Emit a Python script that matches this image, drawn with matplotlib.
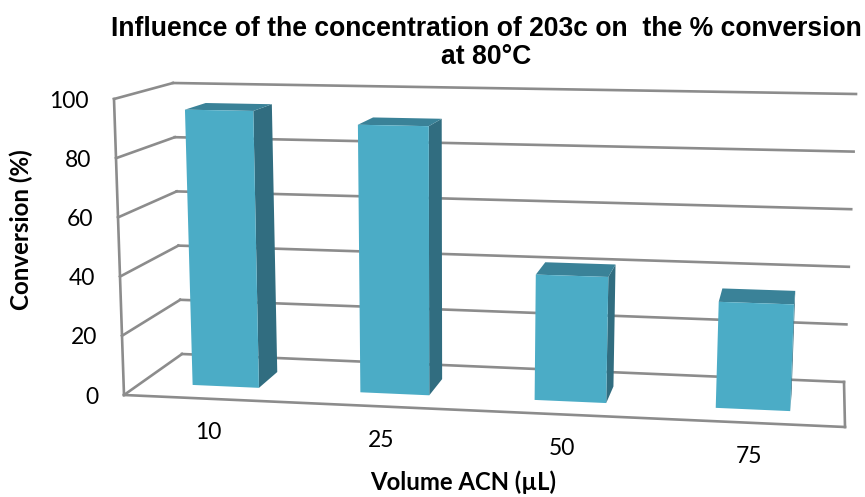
"""
3D column chart, conversion vs volume of ACN
"""

import numpy as np
import matplotlib
matplotlib.use('Agg')
import matplotlib.pyplot as plt
from matplotlib.patches import Polygon

categories = ['10', '25', '50', '75']
conversion = [95, 91, 42, 35]
y_ticks = [0, 20, 40, 60, 80, 100]

title = 'Influence of the concentration of 203c on  the % conversion\nat 80°C'
x_label = 'Volume ACN (µL)'
y_label = 'Conversion (%)'

# pixel positions of the box corners: (left/right, bottom/top)
front = {'lb': (124, 395), 'lt': (114, 99), 'rb': (845, 427), 'rt': (858, 113)}
back = {'lb': (182, 354), 'lt': (173, 83), 'rb': (844, 382), 'rt': (856, 94)}

GRID = '#8c8c8c'
FACE = '#4bacc6'
SIDE = '#316d80'
TOP = '#3a8298'
PERSPECTIVE = 1.08
BAR_WIDTH = 0.4
BAR_SHIFT = 0.003
DEPTH_FRONT, DEPTH_BACK = 0.30, 0.68


def warp(u):
    """right side is nearer to the viewer, so spacing grows along x"""
    return u / (u + PERSPECTIVE * (1 - u))


def project(u, value, depth):
    """trilinear map from (x fraction, value, depth) to pixels"""
    v = value / 100
    res = np.zeros(2)
    for plane, w in ((front, 1 - depth), (back, depth)):
        bottom = (1 - u) * np.array(plane['lb']) + u * np.array(plane['rb'])
        top = (1 - u) * np.array(plane['lt']) + u * np.array(plane['rt'])
        res += w * ((1 - v) * bottom + v * top)
    return tuple(res)


fig = plt.figure(figsize=(8.65, 4.97), dpi=100)
ax = fig.add_axes([0, 0, 1, 1])
ax.set_xlim(0, 865)
ax.set_ylim(497, 0)
ax.axis('off')


def line(p, q):
    ax.plot([p[0], q[0]], [p[1], q[1]], color=GRID, lw=1.9, solid_capstyle='projecting', zorder=1)


# walls and floor
for t in y_ticks:
    line(project(0, t, 1), project(1, t, 1))
    line(project(0, t, 0), project(0, t, 1))
line(project(0, 0, 0), project(0, 100, 0))
line(project(0, 0, 0), project(1, 0, 0))
line(project(1, 0, 0), project(1, 0, 1))

# bars
for i, val in enumerate(conversion):
    u0 = warp((i + 0.5 - BAR_WIDTH / 2) / len(categories)) + BAR_SHIFT
    u1 = warp((i + 0.5 + BAR_WIDTH / 2) / len(categories)) + BAR_SHIFT
    f0, f1 = project(u0, 0, DEPTH_FRONT), project(u1, 0, DEPTH_FRONT)
    t0, t1 = project(u0, val, DEPTH_FRONT), project(u1, val, DEPTH_FRONT)
    b1, bt1 = project(u1, 0, DEPTH_BACK), project(u1, val, DEPTH_BACK)
    bt0 = project(u0, val, DEPTH_BACK)
    ax.add_patch(Polygon([f1, b1, bt1, t1], closed=True, fc=SIDE, ec='none', zorder=2))
    ax.add_patch(Polygon([t0, t1, bt1, bt0], closed=True, fc=TOP, ec='none', zorder=2))
    ax.add_patch(Polygon([f0, f1, t1, t0], closed=True, fc=FACE, ec='none', zorder=3))

    # category label below the floor edge
    u_mid = warp((i + 0.5) / len(categories))
    px, py = project(u_mid, 0, 0)
    ax.text(px, py + 34, categories[i], fontsize=16.5, family='Lato', ha='center', va='center')

# value axis labels
for t in y_ticks:
    px, py = project(0, t, 0)
    ax.text(px - 25, py + 2, str(t), fontsize=16.5, family='Lato', ha='right', va='center')

ax.text(486, 43, title, fontsize=19.1, family='Liberation Sans', fontweight='bold',
        ha='center', va='center', linespacing=1.05)
ax.text(463, 482, x_label, fontsize=17.2, family='Lato', fontweight='bold', ha='center', va='center')
ax.text(21, 230, y_label, fontsize=17.4, family='Lato', fontweight='bold', rotation=90,
        ha='center', va='center')

fig.savefig('out.png', dpi=100)
